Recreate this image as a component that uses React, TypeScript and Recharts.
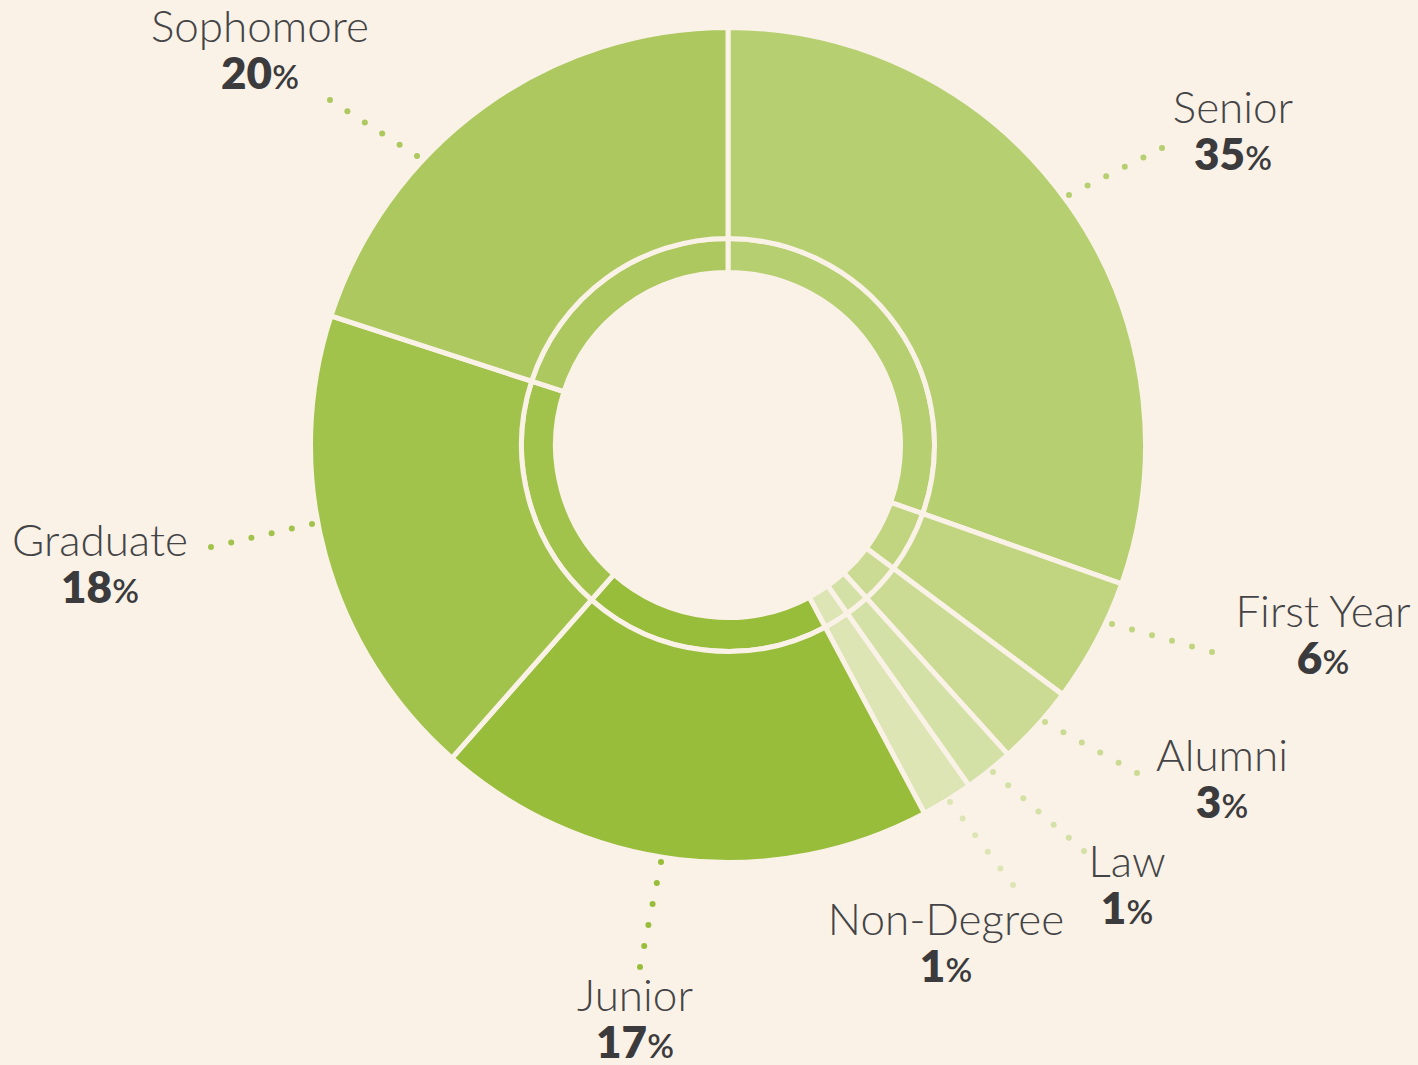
import React from 'react';
import { PieChart, Pie, Cell } from 'recharts';

// clockwise from 12 o'clock
const categories = ['Senior', 'First Year', 'Alumni', 'Law', 'Non-Degree', 'Junior', 'Graduate', 'Sophomore'];
// slice sizes as they are drawn in the picture
const shares = [30.4, 4.8, 3.1, 1.9, 2.0, 19.3, 18.5, 20.0];
// percentages as printed next to each slice
const printedPercents = [35, 6, 3, 1, 1, 17, 18, 20];

const colors = ['#b6cf70', '#c1d580', '#cbdb93', '#d4e1a6', '#dde5b5', '#98bd3b', '#a2c34b', '#acc85f'];

const BG = '#faf2e6';
const TEXT = '#444446';

// hand-placed label layout, offsets from the pie centre (leader start, leader end, text centre/baseline)
const labelLayout = [
  { from: [341, -250], to: [434, -297], text: [505, -322] },
  { from: [384, 179], to: [484, 207], text: [595, 182] },
  { from: [317, 277], to: [409, 328], text: [494, 326] },
  { from: [265, 327], to: [356, 406], text: [399, 432] },
  { from: [222, 357], to: [285, 440], text: [218, 490] },
  { from: [-67, 417], to: [-88, 522], text: [-93, 566] },
  { from: [-416, 79], to: [-517, 102], text: [-628, 111] },
  { from: [-311, -289], to: [-398, -345], text: [-468, -403] },
];

const data = categories.map((name, i) => ({ name, value: shares[i], label: printedPercents[i] }));

const renderLabel = (props: any) => {
  const { cx, cy, index } = props;
  const lay = labelLayout[index];
  const color = colors[index];
  const [x1, y1] = lay.from;
  const [x2, y2] = lay.to;
  const dist = Math.hypot(x2 - x1, y2 - y1);
  const n = Math.round(dist / 20) + 1;
  const dots = [];
  for (let k = 0; k < n; k++) {
    const t = n === 1 ? 0 : k / (n - 1);
    dots.push(<circle key={k} cx={cx + x1 + (x2 - x1) * t} cy={cy + y1 + (y2 - y1) * t} r={3} fill={color} />);
  }
  const tx = cx + lay.text[0];
  const ty = cy + lay.text[1];
  return (
    <g key={`lbl-${index}`}>
      {dots}
      <text x={tx} y={ty} textAnchor="middle" fontFamily="Lato, sans-serif" fontWeight={300} fontSize={44} fill={TEXT}>
        {categories[index]}
      </text>
      <text x={tx} y={ty + 47} textAnchor="middle" fontFamily="Lato, sans-serif" fill="#3b3b3d">
        <tspan fontWeight={800} fontSize={44}>{printedPercents[index]}</tspan>
        <tspan fontWeight={600} fontSize={33}>%</tspan>
      </text>
    </g>
  );
};

export default function App() {
  return (
    <div style={{ position: 'absolute', left: 0, top: 0, width: 1418, height: 1065, background: BG }}>
      <PieChart width={1418} height={1065} margin={{ top: 0, right: 0, bottom: 0, left: 0 }}>
        <Pie
          data={data}
          dataKey="value"
          cx={728}
          cy={445}
          startAngle={90}
          endAngle={-270}
          innerRadius={172.5}
          outerRadius={206.5}
          stroke={BG}
          strokeWidth={5}
          isAnimationActive={false}
        >
          {data.map((d, i) => (
            <Cell key={d.name} fill={colors[i]} />
          ))}
        </Pie>
        <Pie
          data={data}
          dataKey="value"
          cx={728}
          cy={445}
          startAngle={90}
          endAngle={-270}
          innerRadius={206.5}
          outerRadius={417.5}
          stroke={BG}
          strokeWidth={5}
          label={renderLabel}
          labelLine={false}
          isAnimationActive={false}
        >
          {data.map((d, i) => (
            <Cell key={d.name} fill={colors[i]} />
          ))}
        </Pie>
      </PieChart>
    </div>
  );
}
